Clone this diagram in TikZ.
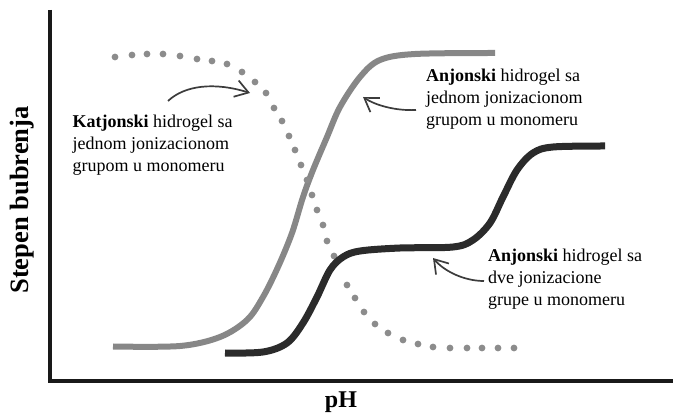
\documentclass[tikz,border=0pt]{standalone}
\usepackage{fontspec}
\setmainfont{Liberation Serif}
\usetikzlibrary{arrows.meta}

\definecolor{lightcurve}{HTML}{878787}
\definecolor{darkcurve}{HTML}{2B2B2B}
\definecolor{dotcurve}{HTML}{8C8C8C}
\definecolor{pointer}{HTML}{3C3C3C}

\begin{document}
\begin{tikzpicture}[x=1pt,y=-1pt]

\tikzstyle axis=[line width=3.5pt, black!90]
\tikzstyle axistext=[font=\fontsize{24}{26}\selectfont\bfseries, inner sep=0pt]
\tikzstyle note=[align=left, inner sep=0pt, anchor=base west, font=\fontsize{18}{22}\selectfont]
\tikzstyle pointer=[line width=1.7pt, color=pointer, -{Straight Barb[length=13pt, width=17pt, line width=1.7pt]}]
\tikzstyle lightline=[line width=6pt, color=lightcurve, line cap=butt]
\tikzstyle darkline=[line width=7pt, color=darkcurve, line cap=butt]

\useasboundingbox (0,0) rectangle (673,414);

% axes
\coordinate (top) at (50,10);
\coordinate (orig) at (50,381);
\coordinate (right) at (675,381);
\draw [axis] (top) -- (orig) -- (right);

\node (ylab) [axistext, font=\fontsize{26.5}{28}\selectfont\bfseries, rotate=90] at (22,200) {Stepen bubrenja};
\node (xlab) [axistext, anchor=base] at (341,408) {pH};

% anionic, one group
\draw [lightline] plot [smooth, tension=0.55] coordinates {(113,346.5) (180,346) (220,337) (247,320) (263,297) (278,267) (292,233) (303,197) (313,170) (327,137) (340,107) (360,77) (380,60) (415,54) (495,53)};

% cationic (dots)
\foreach \p in {(115,57), (132,55), (147,54), (163,54), (180,56), (197,59), (212,61), (227,64), (242,72), (255,82), (266,93), (274,108), (282,121), (289,136), (295,150), (301,165), (307,180), (312,195), (317,210), (323,225), (327,241), (334,256), (347,285), (355,298), (364,312), (375,324), (388,333), (403,340), (418,344), (433,347), (450,348), (467,348), (482,348), (498,348), (514,348)}
  \fill [dotcurve] \p circle (3.4);

% anionic, two groups
\draw [darkline] plot [smooth, tension=0.55] coordinates {(225,353) (263,352) (287,343) (303,323) (317,297) (330,270) (343,257) (360,251) (400,248) (453,247) (473,240) (490,223) (503,197) (517,170) (533,153) (553,147) (605,146)};

% labels (anchored on last line)
\node (katj) [note] at (72.5,172) {\textbf{Katjonski} hidrogel sa\\jednom jonizacionom\\grupom u monomeru};
\node (anj1) [note] at (426,125.5) {\textbf{Anjonski} hidrogel sa\\jednom jonizacionom\\grupom u monomeru};
\node (anj2) [note] at (488,305.5) {\textbf{Anjonski} hidrogel sa\\dve jonizacione\\grupe u monomeru};

\coordinate (katjtail) at (168,101);
\coordinate (katjtip) at (250,93);
\coordinate (anj1tail) at (416,110);
\coordinate (anj1tip) at (363,97);
\coordinate (anj2tail) at (484,281);
\coordinate (anj2tip) at (433,258);

\draw [pointer] (katjtail) .. controls (185,85) and (215,82) .. (katjtip);
\draw [pointer] (anj1tail) .. controls (395,111) and (375,105) .. (anj1tip);
\draw [pointer] (anj2tail) .. controls (465,281) and (445,272) .. (anj2tip);

\end{tikzpicture}
\end{document}
